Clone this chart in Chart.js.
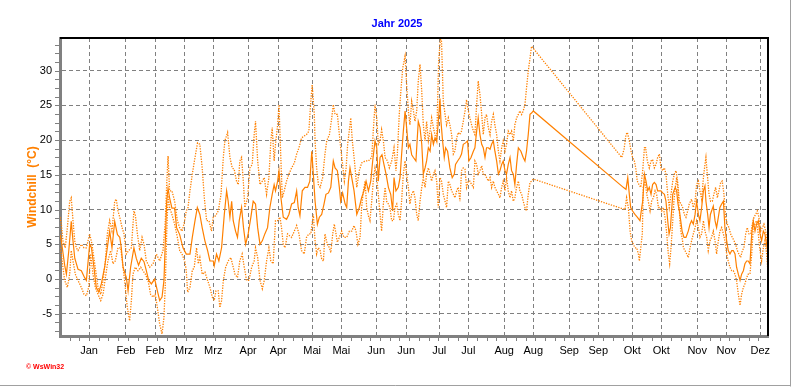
<!DOCTYPE html>
<html lang="de">
<head>
  <meta charset="UTF-8">
  <title>Windchill 2025</title>
  <script src="https://cdn.jsdelivr.net/npm/chart.js"></script>
  <style>
    body { margin: 0; background: #fff; }
    #wrap { position: relative; width: 792px; height: 387px; }
  </style>
</head>
<body>
<div id="wrap"><canvas id="chart"></canvas></div>
<script>
  // Windchill 2025, [Tag im Jahr, °C]
  const meanPts = [
    [0,6.4],[0.7,5.5],[2.4,2],[3.3,0.7],[4.5,4],[5.8,8.3],[6.7,5.5],[7.6,3],[9.3,1.4],[11,1.2],[12.7,0.2],[13.6,-0.2],
    [15.3,5],[16.2,4.5],[17.5,1.7],[18.7,-1.2],[20,-1.9],[21.3,-0.7],[23,1.7],[24.4,4.5],[25.6,6.9],[26.8,4.5],[28.2,8.3],
    [29.6,6.4],[30.8,6],[31.6,4.5],[32.5,1.7],[34.2,0.2],[35.1,-1.7],[36.4,1.7],[38.1,4.5],[39.3,3],[40.5,2],[41.9,3],
    [43.3,2.5],[44.5,1.2],[45.7,-0.2],[47.1,-0.7],[48.8,0],[50.2,-1.7],[51.4,-3.1],[52.6,-2.6],[53.6,-0.2],[54.3,5.5],
    [55,11.2],[55.7,13.1],[56.5,11.7],[57.7,10.2],[59.1,10.2],[60.1,7.4],[61.7,6.4],[63.4,4.5],[65.1,3.6],
    [67,3.6],[68.2,6],[69.6,8.4],[70.8,10.3],[72.1,9.3],[73.3,7.4],[74.7,5.5],[76.1,4.1],[77.3,2.6],[79,2.6],[79.5,1.9],
    [80.7,3.6],[81.9,2.6],[83.3,4.5],[84.7,9.3],[85.9,12.7],[86.7,11.2],[87.6,8.9],[88.5,11.2],[89.3,8.4],[90.5,6.9],
    [91.5,6],[92.4,8.4],[93.6,10.3],[94.6,7.4],[95.7,5],[97,6.5],[98.4,8.9],[99.6,11.2],[100.8,10.8],[101.9,7.4],[103.1,5],
    [104.3,5.5],[105.6,6.5],[107,7.4],[108.2,10.3],[109.4,12.2],[110.4,13.6],[111.1,12.7],[112.2,14.1],[112.9,15.6],
    [113.9,11.7],[115.1,8.9],[116.8,8.6],[118,9.3],[119.4,10.8],[120.8,11],[122,12.7],[122.8,10.3],[123.7,9.1],[124.9,12.7],
    [126.3,13.2],[127.6,13.2],[128.8,14.1],[129.8,18.4],[130.6,15.1],
    [131.5,11.2],[132.7,7.9],[133.7,8.9],[134.9,9.3],[136.1,10.8],[137.1,12.2],[138.4,12.4],[139.6,13.2],[140.9,17],[141.8,16],
    [143,15.6],[144,13.2],[144.7,11.2],[145.7,12.4],[147,10.8],[147.8,10.3],[148.7,14.1],[149.5,16],[150.4,14.6],[151.6,12.7],
    [153,9.3],[154.3,10.3],[155.5,11.7],[156.7,12.7],[157.8,14.1],[159,12.7],[160.2,14.1],[161.2,17],[162.4,19.9],[163.3,18.9],
    [164.1,14.1],[165,17.5],[166,17.9],[167,16.5],[168.1,15.1],[169.3,13.2],[170.5,12.2],[171.5,9.8],[172.2,14.6],[173.2,12.7],
    [174.4,13.2],[175.3,14.6],[176.1,17.9],[177,21.3],[177.9,24.2],[178.7,21.8],[179.6,18.9],[180.4,19.4],[181.3,17.9],
    [182.2,17.5],[183.5,17],[184.7,22.7],[185.6,21.8],[186.5,19.4],[187.3,15.1],[188.2,16],[189,17],[189.9,18.9],[190.8,18.4],
    [191.6,20.8],[192.5,19.4],[193.3,20.3],[194.2,19.9],[195,22.5],
    [195.9,26],[196.4,22.7],[197.1,20.3],[198.1,17.5],[198.8,18.9],[199.8,18.4],[201,16],[202.2,14.6],[203.3,15.1],[203.9,16.5],
    [205,17],[206.2,17.5],[207,18],[207.9,19.4],[209.1,19.6],[210.1,19.9],[210.8,17],[211.9,17.5],[213.1,18.4],[213.9,18.9],
    [214.8,21.3],[215.6,23.2],[216.5,20.8],[217.4,19.4],[218.2,18.9],[219.1,17.5],[219.9,18.9],[220.8,18.9],[221.7,18.7],
    [222.5,19.4],[223.4,19.9],[224.2,18.4],[225.1,17],[226,15.1],[226.8,15.6],[227.7,16.5],[228.5,17],[229.4,15.6],[230.2,15.1],
    [231.1,16.5],[232,17.5],[232.8,15.6],[233.7,15.1],[234.5,13.6],[235.4,16.5],[236.3,18.9],[237.6,18.4],[238.8,17.5],
    [239.7,17],[240.5,18.4],[241.4,20.8],[242.3,23.7],[243.1,23.9],[244,24.2],
    [290.4,13.2],[291.8,12.9],[292.7,14.6],[293.5,12.2],[294.2,10.3],[295.2,9.8],[296.4,9.3],[297.6,8.9],[299,8.4],[299.9,10.3],
    [300.4,11.2],[301.3,15.1],[302.1,14.1],[303,12.7],[303.8,13.2],[304.7,12.2],[305.5,13.6],[306.4,13.9],[307.3,13.6],
    [308.1,12.7],[309,12.7],[309.8,12.7],[310.7,12.4],[311.6,12.2],[312.4,11.2],[313.3,8.4],[314,6.5],[314.7,7.4],[315.3,9.8],
    [315.9,12.2],[316.5,12.7],[317.2,13.2],[317.9,12.7],[318.6,10.8],[319.3,9.8],[320,8.4],[320.7,6.9],[321.7,6],[322.7,6],
    [323.9,6.9],[324.8,7.9],[325.6,8.4],[326.5,7.9],[327.4,9.3],[328.2,11.2],[329.1,9.3],[329.9,8.4],[330.8,10.3],[331.7,12.7],
    [332.5,13.4],[333,11.2],[333.9,9.3],[334.6,7.4],[335.3,9.3],[335.9,9.8],[336.8,10.5],[337.7,8.4],[338.5,7.4],[339.4,8.9],
    [340.2,10.3],[341.1,10.8],[342,11.2],[342.8,7.4],[343.7,5.5],[344.5,4.1],[345.4,3.6],[346.3,4.1],[347.1,4.1],[348,3.6],
    [348.8,1.7],[349.7,0.7],[350.6,-0.2],[351.4,0.7],[352.3,1.2],[353.1,2.2],[354,2.6],[354.8,2.6],[355.7,2.2],[356.6,6.5],
    [357.4,8.4],[358.3,6.9],[359.1,7.9],[360,8.4],[360.9,6.5],[361.7,5.5],[362.6,6.9],[363.4,6.5],[364.3,5],[364.8,4.1]
  ];

  const maxPts = [
    [0,8.9],[0.7,7.9],[1.5,5.5],[2.7,4.5],[3.8,7.4],[5,11.2],[5.8,11.7],[6.7,8.4],[7.6,5.5],[8.4,4.5],[9.3,4.1],[10.1,4.5],
    [11,5],[12.4,4.5],[13.6,4.5],[15.3,6.5],[16.5,5],[17.9,2.2],[19.6,-1.2],[21,-2.2],[22.2,-0.2],[23.4,2.6],[24.4,6.5],
    [25.6,8.4],[26.8,6.9],[28.2,11.2],[29,11.5],[29.9,9.8],[30.8,8.9],[32,7.4],[33,6.5],[34.2,3.6],[35.4,4.1],[36.8,4.5],
    [38.1,9.8],[38.8,9.3],[39.9,6.5],[41.1,4.1],[42.3,6],[43.3,5],[44.5,2.6],[46.2,1.7],[48,2.2],[49.7,3.6],[51.4,2.6],
    [53.1,4.1],[54.3,8.4],[55,13.6],[55.7,17.7],[56.5,12.7],[57.7,12.7],[59.1,11.2],[60.5,8.4],[61.7,7.4],[62.9,6.9],
    [63.9,7.9],[65.1,9.8],[66,10.3],
    [67,12.7],[68.2,15.1],[69.6,17.5],[70.9,19.6],[72.1,19.4],[73.3,16],[74.4,11.7],[75.6,8.4],[76.8,8.4],[78.1,6.9],[79,8.9],
    [80.2,9.1],[81.6,9.8],[83,12.2],[84.2,17.5],[85,19.9],[86.4,21.1],[87.6,17.5],[88.8,16],[89.8,15.8],[91,14.1],[91.9,13.6],
    [92.7,17],[93.6,17.5],[94.5,14.1],[95.3,10.3],[96.7,11.7],[97.9,16],[99.1,16.5],[100.1,20.8],[100.8,22.7],[101.9,17],
    [103.1,13.6],[104.3,14.1],[105.3,14.6],[106.5,12.2],[107.7,14.6],[108.7,19.9],[109.4,21.8],[110.4,17],[111.1,19.4],
    [112.2,22.2],[112.9,25.1],[113.9,17],[114.6,11.7],[115.6,12.7],[116.8,14.1],[118,15.1],[119.4,16],[120.8,16.7],[122,18],
    [123.2,18.9],[124.5,20.3],[125.9,20.6],[127.1,20.8],[128.3,21.3],[129.3,25.6],[130,28],[131.1,23.7],
    [131.5,19.9],[132.3,16],[133.2,13.6],[134.1,13.2],[135.4,14.6],[136.6,18],[137.5,19.9],[138.9,20.8],[140.1,23.2],
    [140.9,25.1],[141.8,23.7],[143,23.7],[144,20.8],[144.7,18.9],[145.7,16.5],[146.6,14.1],[147.5,16],[148.3,19.4],
    [149.2,21.5],[149.9,23.2],[150.7,19.9],[151.8,17],[153,13.2],[154.3,15.6],[155.5,16.7],[157.3,17],[159,17],[160.7,17.5],
    [161.5,21.3],[162.4,25.1],[163.3,23.2],[164.1,19.4],[165,19.9],[165.8,21.5],[166.7,19.9],[167.6,17.5],[168.8,17],
    [169.8,16],[171,17],[172.2,18.9],[173.2,15.6],[173.9,17.9],[174.9,23.7],[175.6,26.6],[176.7,30.4],[177.9,32.1],[178.7,28],
    [179.6,24.2],[180.4,22.2],[181.3,25.6],[182.2,24.2],[183,22.7],[183.9,24.2],[184.7,28.5],[185.6,30.9],[186.5,27],
    [187.3,22.2],[188.2,19.9],[189,22.7],[189.9,19.9],[190.8,21.3],[191.6,23.2],[192.5,21.8],[193.3,20.8],[194.2,19.9],
    [194.6,24.6],[195.2,31.3],[195.6,32.8],[196.2,34.7],[196.7,34.2],[197.6,25.6],[198.5,23.7],[199.3,22.2],[200.2,23.2],
    [201,22.2],[201.9,20.8],[202.8,18],[203.6,18.4],[204.5,20.3],[205.3,21.1],[206.2,20.8],[207,21.3],[207.9,22.7],[208.8,24.2],
    [209.6,25.8],[210.5,24.2],[211.3,23.2],[212.2,22.2],[213.1,21.3],[213.9,20.8],[214.8,25.1],[215.6,28.5],[216.5,26.6],
    [217.4,23.7],[218.2,20.8],[219.1,23.2],[219.9,23.7],[220.8,21.8],[221.7,20.8],[222.5,22.7],[223.4,23.7],[224.2,22.2],
    [225.1,20.8],[226,18.4],[226.8,17],[227.7,18.9],[228.5,19.9],[229.4,18.4],[230.2,19.4],[231.1,21.3],[232,20.8],[232.8,21.3],
    [233.7,19.9],[234.5,22.2],[235.4,23.2],[236.3,23.7],[237.1,24.2],[238,23.7],[238.8,24.2],[239.7,25.1],[240.5,27.5],
    [241.4,29.9],[242.3,31.8],[243.1,33.5],[244,33.2],
    [289.6,17.5],[290.8,18.7],[291.8,20.8],[292.5,21.1],[293.5,19.9],[294.4,18.4],[295.2,17.5],[296.1,17],[296.8,16],
    [297.6,14.1],[298.5,13.6],[299.4,13.2],[300.4,15.6],[301.3,18.9],[301.9,18.9],[302.8,17],[303.8,16],[304.7,17],[305.5,17.2],
    [306.4,16],[307.3,16.5],[308.1,17.5],[309,18],[309.8,16],[310.7,15.6],[311.6,16],[312.4,15.1],[313.3,12.2],[314.1,10.3],
    [315,12.2],[315.9,14.1],[316.7,15.1],[317.6,15.6],[318.4,14.1],[319.3,11.2],[320.2,10.8],[321,10.3],[321.9,9.3],[322.7,8.9],
    [323.6,9.8],[324.4,10.8],[325.6,11.5],[326.5,10.3],[327.4,11.2],[328.2,13.6],[329.1,14.1],[329.9,12.7],[330.8,11.5],
    [331.7,14.6],[332.5,16.5],[333,17.5],[333.7,15.1],[334.6,12.2],[335.4,11.2],[336.3,11.2],[337.1,12.2],[338,13.2],
    [338.9,11.7],[339.7,12.7],[340.6,13.9],[341.4,14.1],[342.3,12.2],[343.2,8.9],[344,7.9],[344.9,7.4],[345.7,6.5],[346.6,6],
    [347.5,5.5],[348.3,5],[349.2,4.1],[350,3.6],[350.9,3.1],[351.8,4.1],[352.6,4.5],[353.5,6.5],[354.3,7.4],[355.2,6.5],
    [356.1,6.5],[356.9,7.9],[357.8,8.9],[358.6,9.3],[359.5,9.8],[360.3,8.9],[361.2,6.9],[362.1,7.4],[362.9,7.9],[363.8,6.9],
    [364.5,5.5]
  ];

  const minPts = [
    [0,4.5],[0.7,3.6],[1.5,1.7],[2.4,-0.2],[3.8,-1.2],[5,0.7],[5.8,4.1],[6.7,2.6],[7.9,0.7],[9.3,-0.2],[11,-1.2],[12.4,-2.2],
    [13.6,-2.4],[14.8,-1.2],[15.8,3.6],[17,0.7],[18.2,-1.2],[19.6,-2.2],[21,-3.1],[22.2,-2.2],[23.4,0.2],[24.7,2.6],[26.1,4.1],
    [27.3,2.2],[28.5,2.6],[29.9,4.5],[31.3,4.5],[32.5,1.7],[33.3,-0.2],[34.7,-4.1],[35.9,-6],[36.8,-3.1],[37.6,0.7],[38.8,1.7],
    [40.2,1.2],[41.6,1.7],[42.8,1.2],[44,0.7],[45.4,-0.2],[46.7,-2.2],[48,-2.6],[49.1,-2.2],[50.2,-4.1],[51.4,-6.5],[52.6,-7.9],
    [53.6,-5.5],[54.3,-0.7],[55,6.5],[55.7,12],[56.5,10.3],[57.7,9.3],[59.1,7.9],[60.5,6],[61.7,4.1],[62.9,3.6],[64.3,2.6],
    [65.1,1.2],[65.8,-1.9],
    [67,-1.2],[68.2,1.2],[69.2,1.7],[70.4,4.5],[71.3,2.2],[72.1,3.1],[73.3,0.7],[74.7,1],[76.1,-0.2],[77.3,-1.2],[78.5,-2.6],
    [79.5,-3.1],[80.4,-1.7],[81.6,-1.7],[82.4,-4.1],[83.3,-3.1],[84.2,-0.2],[85.4,1.7],[86.7,2.6],[88.1,3.1],[89.3,1.7],
    [90.2,0.7],[91.5,0.2],[92.7,2.6],[93.9,3.6],[95,1.7],[96.2,-0.2],[97.4,-0.2],[98.8,1.7],[100.1,2.6],[100.8,4.5],[101.9,3.1],
    [103.1,-0.2],[104.3,-1.4],[105.3,-0.2],[106.5,2.6],[107.7,4.5],[108.7,2.6],[109.9,2.2],[111.1,8.4],[112.2,8.4],[113.4,8.9],
    [114.2,7.4],[115.1,5],[116,4.5],[117.3,6.5],[118.5,6.2],[119.4,6],[120.8,6.9],[122,7.7],[123.2,6.5],[124.5,4.1],[125.9,3.6],
    [127.1,6],[128.3,6.5],[129.3,6.5],[130.6,9.3],
    [131.5,5.5],[132.3,3.6],[133.2,4.5],[134.1,4.1],[134.9,2.9],[135.8,2.6],[136.6,6.5],[137.8,5],[138.9,4.5],[139.6,3.8],
    [140.6,6.5],[141.4,7.9],[142.3,6.5],[143,5.3],[144,6],[145.2,6.9],[146.4,6],[147.8,6],[149.2,6.9],[150.4,6.9],[151.6,7.7],
    [152.6,6.9],[153.6,5],[154.7,6],[155.5,10.3],[156.4,12.7],[157.3,14.1],[158.1,10.3],[159,9.1],[159.8,8.4],[160.7,11.2],
    [161.5,14.1],[162.4,16],[163.3,14.6],[164.1,12.2],[165,9.3],[165.8,6.9],[166.7,10.8],[167.6,13.2],[168.4,11.2],[169.3,10.8],
    [170.1,10.3],[171,8.4],[171.9,8.4],[172.7,10.3],[173.6,10.8],[174.4,9.3],[175.3,8.4],[176.1,11.2],[177,15.1],[177.9,17],
    [178.7,15.1],[179.6,13.2],[180.4,10.8],[181.3,12.2],[182.2,12.7],[183,11.7],[183.9,9.3],[184.7,8.4],[185.6,11.2],
    [186.5,13.2],[187.3,14.6],[188.2,13.2],[189,15.1],[189.9,16],[190.8,15.1],[191.6,14.1],[192.5,15.1],[193.3,15.6],
    [194.2,14.1],[195,10.3],[195.9,14.6],[196.7,14.1],[197.6,12.2],[198.5,11.2],[199.3,10.3],[200.2,14.1],[201,13.6],
    [201.9,12.7],[202.8,12.2],[203.6,11.7],[204.5,12.7],[205.3,13.2],[206.2,11.2],[207,15.6],[207.9,16],[208.8,15.8],
    [209.6,13.2],[210.5,14.1],[211.3,14.1],[212.2,13.6],[213.1,13.2],[213.9,17],[214.8,16.5],[215.6,15.1],[216.5,15.6],
    [217.4,16.3],[218.2,15.1],[219.1,15.1],[219.9,14.6],[220.8,14.1],[221.7,14.6],[222.5,13.2],[223.4,14.1],[224.2,13.2],
    [225.1,12.7],[226,12.2],[226.8,11.7],[227.7,13.2],[228.5,14.1],[229.4,12.7],[230.2,14.6],[231.1,12.7],[232,11.7],
    [232.8,12.7],[233.7,11.2],[234.5,11.7],[235.4,13.2],[236.3,14.1],[237.1,12.7],[238,12.2],[238.8,11.2],[239.7,10.3],
    [240.5,9.8],[241.4,12.2],[242.3,13.9],[243.1,14.1],[244,14.4],
    [291.3,10],[292.1,11.7],[293,10.3],[293.9,6.9],[294.7,5.5],[295.6,5],[296.4,4.5],[297.3,4.5],[298.2,3.6],[298.7,2.6],
    [299.4,4.5],[300.2,6.5],[300.7,13.2],[301.6,14.1],[302.5,12.2],[303.3,11.2],[304.2,9.8],[305,11.2],[305.9,11.7],
    [306.8,12.7],[307.6,12.2],[308.5,10.3],[309.3,10.3],[310.2,9.8],[311,10.3],[311.9,8.9],[312.8,6.5],[313.6,3.6],[314.3,2.2],
    [315,4.5],[315.9,8.4],[316.5,11.2],[317.2,13.2],[317.9,14.6],[318.6,12.7],[319.3,9.8],[320,6.9],[320.7,6],[321.4,4.5],
    [322.2,4.1],[323.1,3.6],[323.9,3.1],[324.8,4.5],[325.6,5.5],[326.5,6.5],[327.4,7.4],[328.2,8.4],[329.1,7.4],[329.9,6],
    [330.8,6.5],[331.7,8.4],[332.5,6.9],[333.4,6],[334.2,4.1],[335.1,5.5],[335.9,6],[336.8,6.9],[337.7,5.5],[338.5,3.6],
    [339.4,5.5],[340.2,6.9],[341.1,7.4],[342,6.5],[342.8,5.5],[343.7,3.6],[344.5,2.6],[345.4,1.7],[346.3,1.2],[347.1,1.2],
    [348,0.7],[348.8,-0.2],[349.7,-2.2],[350.6,-3.8],[351.4,-2.2],[352.3,-1.2],[353.1,-0.7],[354,0.2],[354.8,0.7],[355.7,0.7],
    [356.6,3.6],[357.4,7.4],[358.3,7.9],[359.1,8.4],[360,6.5],[360.9,4.1],[361.7,2.6],[362.6,4.5],[363.4,5.5],[364.3,3.6],
    [364.8,1.7]
  ];

  // x-axis gridlines (day of year) and their month labels
  const tickDays = [15, 34, 49, 64, 79, 97, 112.5, 130, 145, 163, 178.5, 195.5, 210.5, 229, 244, 262.5, 277.5, 295, 310, 328.5, 343.5, 361];
  const tickLabels = ['Jan', 'Feb', 'Feb', 'Mrz', 'Mrz', 'Apr', 'Apr', 'Mai', 'Mai', 'Jun', 'Jun', 'Jul', 'Jul',
                      'Aug', 'Aug', 'Sep', 'Sep', 'Okt', 'Okt', 'Nov', 'Nov', 'Dez'];
  const yTicks = [-5, 0, 5, 10, 15, 20, 25, 30];

  const ORANGE = '#ff8000';
  const GRID = '#808080';
  const FONT = '"Liberation Sans", Arial, sans-serif';

  const toXY = pts => pts.map(p => ({ x: p[0], y: p[1] }));

  // frame, minor ticks, title and the small WsWin32 mark
  const extras = {
    id: 'extras',
    afterDraw(chart) {
      const { ctx, chartArea: a, scales: { x, y } } = chart;
      ctx.save();
      ctx.strokeStyle = GRID;
      ctx.lineWidth = 1;
      ctx.beginPath();
      for (let v = -7.5; v <= 34; v += 1.25) {
        const py = Math.round(y.getPixelForValue(v)) + 0.5;
        ctx.moveTo(a.left - 5, py);
        ctx.lineTo(a.left - 1, py);
      }
      for (let d = 5; d < 365; d += 5) {
        const px = Math.round(x.getPixelForValue(d)) + 0.5;
        ctx.moveTo(px, a.bottom + 1);
        ctx.lineTo(px, a.bottom + 5);
      }
      ctx.stroke();

      ctx.strokeStyle = '#000';
      ctx.lineWidth = 2;
      ctx.beginPath();
      ctx.moveTo(a.left, a.top);
      ctx.lineTo(a.right, a.top);
      ctx.lineTo(a.right, a.bottom);
      ctx.stroke();

      ctx.strokeStyle = '#a0a0a0';
      ctx.lineWidth = 1;
      ctx.beginPath();
      ctx.moveTo(790.5, 0);
      ctx.lineTo(790.5, 386.5);
      ctx.moveTo(0, 385.5);
      ctx.lineTo(790.5, 385.5);
      ctx.stroke();

      ctx.fillStyle = '#0000ff';
      ctx.font = 'bold 11px ' + FONT;
      ctx.textAlign = 'center';
      ctx.textBaseline = 'middle';
      ctx.fillText('Jahr 2025', 397, 24);

      ctx.fillStyle = '#ff0000';
      ctx.font = 'bold 7px ' + FONT;
      ctx.textAlign = 'left';
      ctx.fillText('\u00a9 WsWin32', 26, 367);
      ctx.restore();
    }
  };

  new Chart(document.getElementById('chart'), {
    type: 'line',
    data: {
      datasets: [
        { label: 'Windchill', data: toXY(meanPts), borderColor: ORANGE, borderWidth: 1.2, pointRadius: 0, tension: 0 },
        { label: 'Max', data: toXY(maxPts), borderColor: ORANGE, borderWidth: 1.3, borderDash: [1.3, 1.3], pointRadius: 0, tension: 0 },
        { label: 'Min', data: toXY(minPts), borderColor: ORANGE, borderWidth: 1.3, borderDash: [1.3, 1.3], pointRadius: 0, tension: 0 }
      ]
    },
    options: {
      responsive: true,
      maintainAspectRatio: false,
      animation: false,
      devicePixelRatio: 1,
      layout: { padding: { top: 38, right: 24, bottom: 0, left: 0 } },
      plugins: { legend: { display: false }, tooltip: { enabled: false } },
      scales: {
        x: {
          type: 'linear',
          min: 0,
          max: 365,
          afterBuildTicks: s => { s.ticks = tickDays.map(v => ({ value: v })); },
          afterFit: s => { s.height = 51; },
          grid: { color: GRID, lineWidth: 1, drawTicks: false },
          border: { display: true, color: GRID, width: 3, dash: [4, 3] },
          ticks: {
            autoSkip: false, maxRotation: 0, minRotation: 0, padding: 8,
            color: '#000', font: { family: FONT, size: 11 },
            callback: (v, i) => tickLabels[i]
          }
        },
        y: {
          min: -8.2,
          max: 34.7,
          afterBuildTicks: s => { s.ticks = yTicks.map(v => ({ value: v })); },
          afterFit: s => { s.width = 60; },
          grid: { color: GRID, lineWidth: 1, drawTicks: false },
          border: { display: true, color: GRID, width: 3, dash: [4, 3] },
          ticks: { padding: 8, color: '#000', font: { family: FONT, size: 11 } },
          title: {
            display: true,
            text: 'Windchill  (\u00b0C)',
            color: ORANGE,
            font: { family: FONT, size: 12, weight: 'bold' },
            padding: { top: 25, bottom: 0 }
          }
        }
      }
    },
    plugins: [extras]
  });
</script>
</body>
</html>
